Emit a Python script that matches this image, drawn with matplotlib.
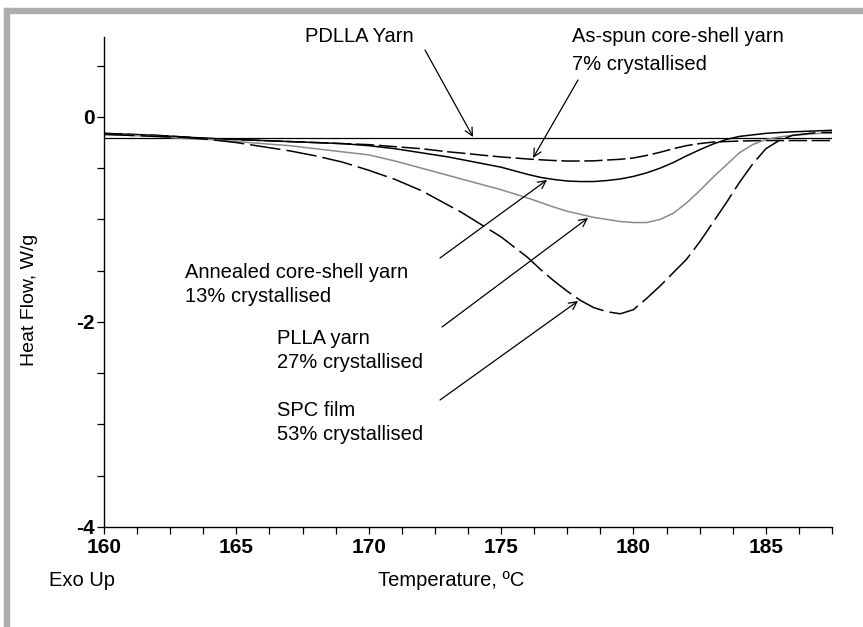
import matplotlib
matplotlib.use("Agg")
import matplotlib.pyplot as plt
from matplotlib.patches import Rectangle
from matplotlib.ticker import MultipleLocator

plt.rcParams['font.family'] = ['Liberation Sans', 'DejaVu Sans']

# ---- data ----
temp = [160, 161, 162, 163, 164, 165, 166, 167, 168, 169, 170, 171, 172,
        172.5, 173, 173.5, 174, 174.5, 175, 175.5, 176, 176.5, 177, 177.5,
        178, 178.5, 179, 179.5, 180, 180.5, 181, 181.5, 182, 182.5, 183,
        183.5, 184, 184.5, 185, 185.5, 186, 187, 187.5]

spc_film = [-0.17, -0.18, -0.19, -0.20, -0.22, -0.25, -0.29, -0.33, -0.38, -0.44,
            -0.52, -0.61, -0.72,
            -0.79, -0.86, -0.93, -1.01, -1.09, -1.17, -1.27, -1.37, -1.49, -1.60, -1.70,
            -1.79, -1.86, -1.90, -1.92, -1.88, -1.77, -1.65, -1.52, -1.39, -1.22, -1.03,
            -0.84, -0.64, -0.46, -0.31, -0.23, -0.18, -0.15, -0.15]

plla_yarn = [-0.17, -0.18, -0.19, -0.21, -0.22, -0.24, -0.26, -0.28, -0.31, -0.34,
             -0.37, -0.43, -0.50,
             -0.535, -0.57, -0.605, -0.64, -0.675, -0.71, -0.75, -0.79, -0.835, -0.88, -0.92,
             -0.95, -0.98, -1.00, -1.02, -1.03, -1.03, -1.00, -0.94, -0.84, -0.72, -0.59,
             -0.47, -0.35, -0.27, -0.22, -0.195, -0.18, -0.16, -0.16]

annealed = [-0.16, -0.17, -0.18, -0.195, -0.21, -0.22, -0.23, -0.24, -0.25, -0.26,
            -0.28, -0.31, -0.35,
            -0.37, -0.39, -0.415, -0.44, -0.465, -0.49, -0.525, -0.56, -0.59, -0.61, -0.625,
            -0.63, -0.63, -0.62, -0.605, -0.58, -0.545, -0.50, -0.445, -0.38, -0.32, -0.265,
            -0.22, -0.19, -0.175, -0.16, -0.152, -0.145, -0.135, -0.13]

as_spun = [-0.16, -0.17, -0.18, -0.195, -0.21, -0.22, -0.23, -0.24, -0.25, -0.26,
           -0.27, -0.29, -0.31,
           -0.325, -0.34, -0.352, -0.365, -0.378, -0.39, -0.40, -0.41, -0.418, -0.425, -0.43,
           -0.43, -0.428, -0.42, -0.413, -0.40, -0.375, -0.345, -0.31, -0.28, -0.26, -0.245,
           -0.24, -0.235, -0.232, -0.23, -0.23, -0.23, -0.23, -0.23]

pdlla_temp = [160, 187.5]
pdlla = [-0.205, -0.205]

x_ticks = [160, 165, 170, 175, 180, 185]
y_ticks = [0, -2, -4]

# ---- figure ----
W, H = 863, 627
fig = plt.figure(figsize=(W / 100, H / 100), dpi=100)

def fx(px):
    return px / W

def fy(py):
    return 1 - py / H

# grey frame strips (top and left)
fig.patches.append(Rectangle((fx(4), fy(13)), 1 - fx(4), (13 - 8) / H,
                             transform=fig.transFigure, color='#adadad', zorder=0))
fig.patches.append(Rectangle((fx(4), 0), 5 / W, fy(8),
                             transform=fig.transFigure, color='#adadad', zorder=0))

ax = fig.add_axes([fx(104), fy(527), fx(832) - fx(104), (527 - 37) / H])
ax.set_xlim(160, 187.5)
ax.set_ylim(-4, 0.78)

ax.plot(pdlla_temp, pdlla, color='black', lw=0.9)
ax.plot(temp, as_spun, color='black', lw=1.1, dashes=(12, 3))
ax.plot(temp, annealed, color='black', lw=1.1)
ax.plot(temp, plla_yarn, color='#8a8a8a', lw=1.1)
ax.plot(temp, spc_film, color='black', lw=1.1, dashes=(20, 4))

for s in ['top', 'right']:
    ax.spines[s].set_visible(False)
for s in ['left', 'bottom']:
    ax.spines[s].set_linewidth(1.0)

ax.set_xticks(x_ticks)
ax.set_yticks(y_ticks)
ax.xaxis.set_minor_locator(MultipleLocator(1.25))
ax.yaxis.set_minor_locator(MultipleLocator(0.5))
ax.tick_params(which='both', direction='out', length=5, width=0.9)
ax.tick_params(axis='x', which='major', pad=3, labelsize=15)
ax.tick_params(axis='y', which='major', pad=2, labelsize=15)
ax.set_yticklabels([str(v) for v in y_ticks])
for lab in ax.get_xticklabels() + ax.get_yticklabels():
    lab.set_fontweight('bold')

# axis labels
fig.text(fx(30), fy(300), 'Heat Flow, W/g', rotation=90, ha='center', va='center', fontsize=14)
fig.text(fx(451), fy(581), 'Temperature, \u00baC', ha='center', va='center', fontsize=14.5)
fig.text(fx(49), fy(581), 'Exo Up', ha='left', va='center', fontsize=14.5)

# annotation texts
fs = 14.5
texts = [
    (305, 37, 'PDLLA Yarn'),
    (572, 37, 'As-spun core-shell yarn'),
    (572, 65, '7% crystallised'),
    (185, 272, 'Annealed core-shell yarn'),
    (185, 297, '13% crystallised'),
    (277, 338, 'PLLA yarn'),
    (277, 362, '27% crystallised'),
    (277, 410, 'SPC film'),
    (277, 435, '53% crystallised'),
]
for px, py, t in texts:
    fig.text(fx(px), fy(py), t, ha='left', va='center', fontsize=fs)

# arrows: tip in data coords, start in figure pixels
def px2data(px, py):
    return 160 + (px - 104) / 26.47, (117 - py) / 102.5

arrows = [
    ((473, 137), (425, 50)),
    ((533, 158), (578, 80)),
    ((547, 180), (440, 258)),
    ((588, 218), (442, 327)),
    ((578, 301), (440, 400)),
]
for (tx, ty), (sx, sy) in arrows:
    ax.annotate('', xy=px2data(tx, ty), xycoords='data',
                xytext=(fx(sx), fy(sy)), textcoords='figure fraction',
                arrowprops=dict(arrowstyle='->', lw=0.9, color='black',
                                shrinkA=0, shrinkB=0, mutation_scale=14))

fig.savefig('out.png', dpi=100)
